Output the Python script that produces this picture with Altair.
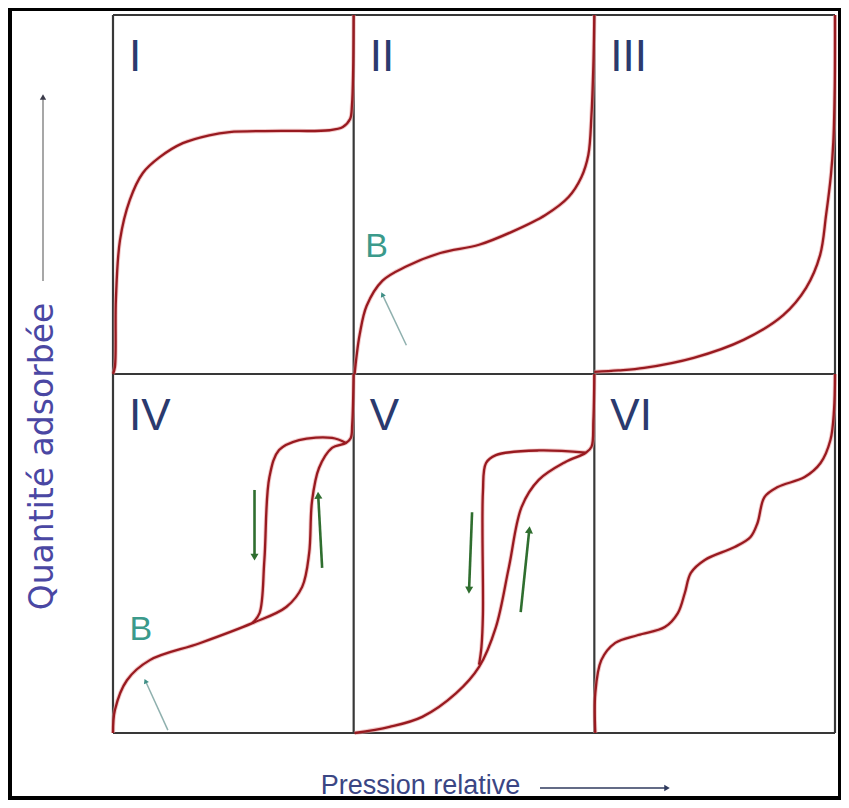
import math
import altair as alt
import pandas as pd

# ---------------- data (panel-normalised coordinates, 0..1) ----------------
panels = ["I", "II", "III", "IV", "V", "VI"]
panel_col = [0, 1, 2, 0, 1, 2]
panel_row = [1, 1, 1, 0, 0, 0]

I_x = [0.0, 0.008, 0.012, 0.029, 0.070, 0.124, 0.194, 0.29, 0.40, 0.484, 0.70, 0.90, 0.955, 0.985, 0.993, 0.998, 1.0]
I_y = [0.0, 0.02, 0.206, 0.373, 0.485, 0.56, 0.604, 0.643, 0.665, 0.674, 0.677, 0.679, 0.688, 0.71, 0.75, 0.85, 1.0]

II_x = [0.004, 0.012, 0.025, 0.054, 0.12, 0.22, 0.36, 0.521, 0.657, 0.797, 0.893, 0.946, 0.975, 0.988, 0.996, 1.0]
II_y = [0.0, 0.05, 0.11, 0.19, 0.26, 0.30, 0.337, 0.36, 0.396, 0.443, 0.493, 0.548, 0.61, 0.72, 0.86, 1.0]

III_x = [0.0, 0.1, 0.207, 0.413, 0.62, 0.785, 0.88, 0.938, 0.963, 0.983, 0.993, 0.999, 1.0]
III_y = [0.006, 0.01, 0.017, 0.045, 0.095, 0.164, 0.24, 0.331, 0.443, 0.554, 0.646, 0.80, 1.0]

IVa_x = [0.0, 0.008, 0.058, 0.153, 0.36, 0.579, 0.72, 0.786, 0.815, 0.827, 0.856, 0.91, 0.968, 0.988, 0.994, 1.0]
IVa_y = [0.0, 0.064, 0.147, 0.203, 0.25, 0.306, 0.351, 0.407, 0.501, 0.646, 0.738, 0.794, 0.808, 0.822, 0.86, 1.0]
IVd_x = [0.579, 0.609, 0.629, 0.65, 0.69, 0.773, 0.91, 0.968]
IVd_y = [0.306, 0.334, 0.482, 0.713, 0.788, 0.816, 0.822, 0.808]

Va_x = [0.004, 0.149, 0.285, 0.426, 0.521, 0.591, 0.645, 0.698, 0.769, 0.88, 0.963, 0.988, 0.996, 1.0]
Va_y = [0.0, 0.017, 0.045, 0.111, 0.184, 0.295, 0.462, 0.63, 0.705, 0.755, 0.78, 0.797, 0.87, 1.0]
Vd_x = [0.521, 0.531, 0.537, 0.537, 0.55, 0.591, 0.769, 0.963]
Vd_y = [0.19, 0.24, 0.33, 0.67, 0.752, 0.774, 0.787, 0.781]

VI_x = [0.004, 0.004, 0.029, 0.087, 0.182, 0.293, 0.347, 0.376, 0.401, 0.459, 0.583, 0.649, 0.678, 0.707, 0.762, 0.874, 0.94, 0.981, 0.996, 1.0]
VI_y = [0.0, 0.11, 0.203, 0.251, 0.273, 0.295, 0.334, 0.39, 0.446, 0.482, 0.518, 0.546, 0.585, 0.657, 0.685, 0.713, 0.752, 0.816, 0.9, 1.0]

# hysteresis arrows (green): tail -> tip
green_panel = ["IV", "IV", "V", "V"]
green_x0 = [0.588, 0.869, 0.492, 0.694]
green_y0 = [0.677, 0.46, 0.615, 0.337]
green_x1 = [0.588, 0.852, 0.479, 0.731]
green_y1 = [0.482, 0.67, 0.39, 0.574]

# point B labels and their pointer arrows
b_panel = ["II", "IV"]
b_label_x = [0.095, 0.116]
b_label_y = [0.354, 0.287]
b_x0 = [0.219, 0.228]
b_y0 = [0.08, 0.008]
b_x1 = [0.116, 0.132]
b_y1 = [0.226, 0.149]

# ---------------- layout ----------------
W, H = 722, 718
PW, PH = W / 3, H / 2
off = {p: (c, r) for p, c, r in zip(panels, panel_col, panel_row)}

curves = [
    ("I", "I", I_x, I_y), ("II", "II", II_x, II_y), ("III", "III", III_x, III_y),
    ("IVa", "IV", IVa_x, IVa_y), ("IVd", "IV", IVd_x, IVd_y),
    ("Va", "V", Va_x, Va_y), ("Vd", "V", Vd_x, Vd_y),
    ("VI", "VI", VI_x, VI_y),
]
rows = []
for name, p, xs, ys in curves:
    c, r = off[p]
    for i, (x, y) in enumerate(zip(xs, ys)):
        rows.append({"curve": name, "i": i, "gx": c + x, "gy": r + y})
curve_df = pd.DataFrame(rows)

border_rows = []
for c in range(4):
    border_rows.append({"gx": c, "gy": 0, "gx2": c, "gy2": 2})
for r in range(3):
    border_rows.append({"gx": 0, "gy": r, "gx2": 3, "gy2": r})
border_df = pd.DataFrame(border_rows)

label_df = pd.DataFrame({"text": panels,
                         "gx": [off[p][0] for p in panels],
                         "gy": [off[p][1] + 1 for p in panels]})


def arrow_frames(pl, x0, y0, x1, y1, back):
    seg, heads = [], []
    for p, a, b, c2, d in zip(pl, x0, y0, x1, y1):
        c, r = off[p]
        dxp = (c2 - a) * PW
        dyp = -(d - b) * PH  # screen-down
        L = math.hypot(dxp, dyp)
        ang = math.degrees(math.atan2(dxp, -dyp)) % 360
        ux, uy = dxp / L, dyp / L
        hx = c + c2 - ux * back / PW
        hy = r + d + uy * back / PH
        seg.append({"gx": c + a, "gy": r + b, "gx2": hx, "gy2": hy})
        heads.append({"gx": hx, "gy": hy, "ang": ang})
    return pd.DataFrame(seg), pd.DataFrame(heads)


green_seg, green_head = arrow_frames(green_panel, green_x0, green_y0, green_x1, green_y1, 4)
b_seg, b_head = arrow_frames(b_panel, b_x0, b_y0, b_x1, b_y1, 2.5)
b_lab = pd.DataFrame({"text": ["B", "B"],
                      "gx": [off[p][0] + x for p, x in zip(b_panel, b_label_x)],
                      "gy": [off[p][1] + y for p, y in zip(b_panel, b_label_y)]})

FONT = "Liberation Sans, Arial, sans-serif"

xsc = alt.Scale(domain=[0, 3], nice=False, zero=False)
ysc = alt.Scale(domain=[0, 2], nice=False, zero=False)
xaxis = alt.Axis(title="Pression relative", domain=False, ticks=False, labels=False, grid=False, zindex=2,
                 titleFont=FONT, titleFontSize=27, titleFontWeight="normal", titleColor="#3b4684",
                 titleX=307, titleY=60, titleAlign="center", titleBaseline="alphabetic")
yaxis = alt.Axis(title="Quantité adsorbée", domain=False, ticks=False, labels=False, grid=False, zindex=2,
                 titleFont="DejaVu Sans", titleFontSize=33, titleFontWeight="normal", titleColor="#4a47a3",
                 titleAngle=270, titleX=-71, titleY=441, titleAlign="center", titleBaseline="middle")
X = alt.X("gx:Q", scale=xsc, axis=xaxis)
Y = alt.Y("gy:Q", scale=ysc, axis=yaxis)

one = pd.DataFrame({"d": [0]})

white = alt.Chart(one).mark_rect(color="white").encode(
    x=alt.value(-101), x2=alt.value(725), y=alt.value(-4), y2=alt.value(781))

borders = alt.Chart(border_df).mark_rule(color="#383838", strokeWidth=2.2).encode(
    x=X, y=Y, x2="gx2:Q", y2="gy2:Q")

halo = alt.Chart(curve_df).mark_line(interpolate="catmull-rom", color="#e79a9a", strokeWidth=4.2,
                                     opacity=0.55).encode(x=X, y=Y, detail="curve:N", order="i:Q")
lines = alt.Chart(curve_df).mark_line(interpolate="catmull-rom", color="#981a20", strokeWidth=2.3).encode(
    x=X, y=Y, detail="curve:N", order="i:Q")

numerals = alt.Chart(label_df).mark_text(align="left", baseline="alphabetic", dx=16, dy=56,
                                         font=FONT, fontSize=44, color="#2b3a6e").encode(
    x=X, y=Y, text="text:N")

g_rule = alt.Chart(green_seg).mark_rule(color="#2f6e2f", strokeWidth=2.6).encode(
    x=X, y=Y, x2="gx2:Q", y2="gy2:Q")
g_head = alt.Chart(green_head).mark_point(shape="triangle", filled=True, size=65, opacity=1,
                                          color="#2f6e2f").encode(
    x=X, y=Y, angle=alt.Angle("ang:Q", scale=None))

b_rule = alt.Chart(b_seg).mark_rule(color="#8fb0ae", strokeWidth=1.5).encode(
    x=X, y=Y, x2="gx2:Q", y2="gy2:Q")
b_hd = alt.Chart(b_head).mark_point(shape="triangle", filled=True, size=30, opacity=1,
                                    color="#3f8f86").encode(
    x=X, y=Y, angle=alt.Angle("ang:Q", scale=None))
b_text = alt.Chart(b_lab).mark_text(align="center", baseline="middle", font=FONT, fontSize=34,
                                    color="#3b9a8b").encode(x=X, y=Y, text="text:N")

x_arrow = alt.Chart(one).mark_rule(color="#2f3a5e", strokeWidth=1.6).encode(
    x=alt.value(427), x2=alt.value(552), y=alt.value(773))
x_head = alt.Chart(one).mark_point(shape="triangle-right", filled=True, size=40, opacity=1,
                                   color="#2f3a5e").encode(x=alt.value(554), y=alt.value(773))
y_arrow = alt.Chart(one).mark_rule(color="#8a8a8a", strokeWidth=1.5).encode(
    x=alt.value(-70), y=alt.value(266), y2=alt.value(84))
y_head = alt.Chart(one).mark_point(shape="triangle-up", filled=True, size=40, opacity=1,
                                   color="#3a3a4a").encode(x=alt.value(-70), y=alt.value(82))

chart = alt.layer(
    white, borders, halo, lines, numerals, g_rule, g_head, b_rule, b_hd, b_text,
    x_arrow, x_head, y_arrow, y_head
).properties(
    width=W, height=H,
    padding={"left": 105, "top": 7, "right": 6, "bottom": 67},
    autosize=alt.AutoSizeParams(type="none"),
    background="black",
).configure_view(strokeWidth=0)

chart.save("out.html", embed_options={"renderer": "svg", "actions": False})
